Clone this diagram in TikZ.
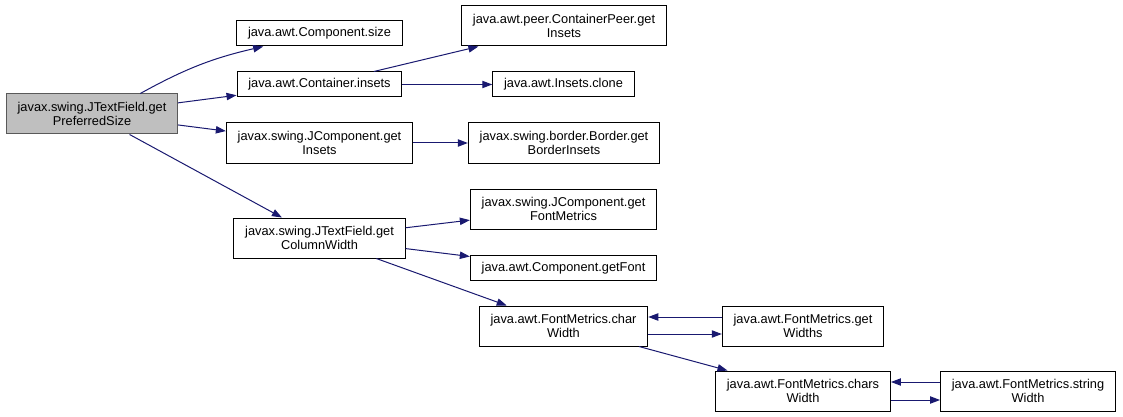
\documentclass[tikz,border=0pt]{standalone}
\usepackage{fontspec}
\setmainfont{Liberation Sans}
\usetikzlibrary{arrows.meta}
\definecolor{edgeblue}{HTML}{191970}
\begin{document}
\begin{tikzpicture}[x=0.75pt,y=-0.75pt,
    fn/.style={draw=black,fill=white,align=center,inner xsep=8.5pt,inner ysep=0pt,
      font=\fontsize{9.6}{10.8}\selectfont,line width=0.75pt},
    one/.style={fn,minimum height=18.75pt},
    two/.style={fn,minimum height=30pt},
    root/.style={two,fill=black!25,draw=black!65},
    >={Triangle[length=7.5pt,width=5.5pt]},
    call/.style={->,draw=edgeblue,line width=0.75pt}]
  \useasboundingbox (0,0) rectangle (1123,417);
      \node[root] (pref) at (92,114) {javax.swing.JTextField.get\\PreferredSize};
      \node[one] (csize) at (319.5,33.5) {java.awt.Component.size};
      \node[one] (cins) at (319.5,84.5) {java.awt.Container.insets};
      \node[two] (jins) at (319.5,143) {javax.swing.JComponent.get\\Insets};
      \node[two] (colw) at (319.5,238) {javax.swing.JTextField.get\\ColumnWidth};
      \node[two] (peer) at (564,26) {java.awt.peer.ContainerPeer.get\\Insets};
      \node[one] (clone) at (563.5,84.5) {java.awt.Insets.clone};
      \node[two] (bins) at (564,143) {javax.swing.border.Border.get\\BorderInsets};
      \node[two] (fmet) at (563.5,209) {javax.swing.JComponent.get\\FontMetrics};
      \node[one] (font) at (563.5,268) {java.awt.Component.getFont};
      \node[two] (charw) at (563.5,326) {java.awt.FontMetrics.char\\Width};
      \node[two] (getw) at (803,326) {java.awt.FontMetrics.get\\Widths};
      \node[two] (charsw) at (803,391) {java.awt.FontMetrics.chars\\Width};
      \node[two] (strw) at (1028,391) {java.awt.FontMetrics.string\\Width};
      \draw [call] (pref.23.5) to [bend left=8] (csize.193.6);
      \draw [call] (pref) -- (cins);
      \draw [call] (pref) -- (jins);
      \draw [call] (pref) -- (colw);
      \draw [call] (cins) -- (peer);
      \draw [call] (cins) -- (clone);
      \draw [call] (jins) -- (bins);
      \draw [call] (colw) -- (fmet);
      \draw [call] (colw) -- (font);
      \draw [call] (colw) -- (charw);
      \draw [call] ([yshift=6.75pt]getw.west) -- ([yshift=6.75pt]charw.east);
      \draw [call] ([yshift=-6pt]charw.east) -- ([yshift=-6pt]getw.west);
      \draw [call] (charw) -- (charsw);
      \draw [call] ([yshift=6.75pt]strw.west) -- ([yshift=6.75pt]charsw.east);
      \draw [call] ([yshift=-6.75pt]charsw.east) -- ([yshift=-6.75pt]strw.west);
    \end{tikzpicture}
\end{document}
